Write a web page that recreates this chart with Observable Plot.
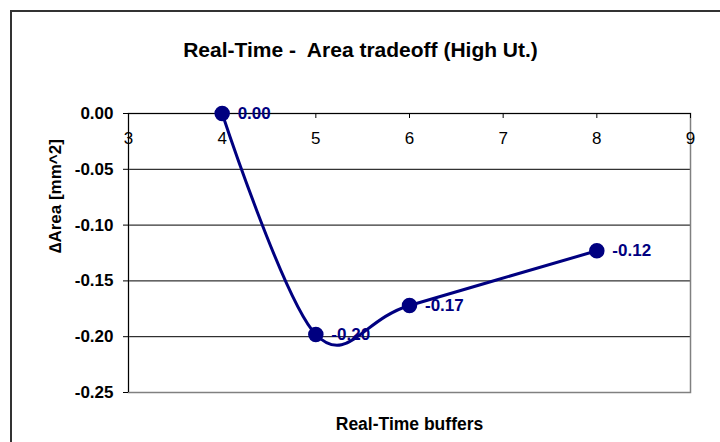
<!DOCTYPE html>
<html>
<head>
<meta charset="utf-8">
<script src="https://cdn.jsdelivr.net/npm/d3@7"></script>
<script src="https://cdn.jsdelivr.net/npm/@observablehq/plot@0.6"></script>
<style>
  body { margin: 0; background: #fff; }
  #wrap { position: relative; width: 720px; height: 442px; overflow: hidden; }
  #outer { position: absolute; left: 10px; top: 10px; width: 760px; height: 480px;
           border-left: 2px solid #333; border-top: 2px solid #333; pointer-events: none; }
  #wrap svg { position: absolute; left: 0; top: 0; }
  #wrap svg text { white-space: pre; }
</style>
</head>
<body>
<div id="wrap"><div id="outer"></div></div>
<script>
const chartTitle = "Real-Time -  Area tradeoff (High Ut.)";
const xTitle = "Real-Time buffers";
const yTitle = "\u2206Area [mm^2]";
const xValues = [4, 5, 6, 8];
const yValues = [0.00, -0.198, -0.172, -0.123];
const pointLabels = ["0.00", "-0.20", "-0.17", "-0.12"];
const xTicks = [3, 4, 5, 6, 7, 8, 9];
const yTicks = [0, -0.05, -0.10, -0.15, -0.20, -0.25];
const gridTicks = [-0.05, -0.10, -0.15, -0.20, -0.25];

const data = xValues.map((x, i) => ({x, y: yValues[i], label: pointLabels[i]}));
const navy = "#000080";
const font = "Liberation Sans, Arial, sans-serif";

const chart = Plot.plot({
  width: 720,
  height: 442,
  marginLeft: 128,
  marginRight: 30,
  marginTop: 113,
  marginBottom: 50,
  style: {fontFamily: font, fontSize: "17px", color: "#000", background: "transparent"},
  x: {domain: [3, 9], axis: null},
  y: {domain: [-0.25, 0], axis: null},
  marks: [
    Plot.gridY(gridTicks, {stroke: "#000", strokeOpacity: 1, strokeWidth: 1}),
    Plot.frame({stroke: "#808080", strokeWidth: 1.5}),
    Plot.ruleX([3], {stroke: "#000"}),
    Plot.ruleY([0], {stroke: "#000"}),
    Plot.axisY(yTicks, {
      anchor: "left", tickSize: 5, tickPadding: 10, fontWeight: "bold", fontSize: 17,
      tickFormat: d => d.toFixed(2), label: null, stroke: "#000"
    }),
    Plot.ruleX(xTicks, {x: d => d, y1: 0, y2: 0, insetBottom: -5, stroke: "#000"}),
    Plot.text(xTicks, {x: d => d, frameAnchor: "top", lineAnchor: "middle", dy: 25.5,
      text: d => String(d), fontSize: 17, fill: "#000"}),
    Plot.line(data, {x: "x", y: "y", stroke: navy, strokeWidth: 3, curve: d3.curveCardinal.tension(0)}),
    Plot.dot(data, {x: "x", y: "y", r: 7, fill: navy, stroke: navy}),
    Plot.text(data, {x: "x", y: "y", text: "label", textAnchor: "start", dx: 15.5, dy: 0,
      fill: navy, fontWeight: "bold", fontSize: 17}),
    Plot.text([chartTitle], {frameAnchor: "top", lineAnchor: "middle", dx: -49, dy: -63.5,
      fontWeight: "bold", fontSize: 21, fill: "#000"}),
    Plot.text([xTitle], {frameAnchor: "bottom", lineAnchor: "middle", dy: 32,
      fontWeight: "bold", fontSize: 17.5, fill: "#000"}),
    Plot.text([yTitle], {frameAnchor: "left", dx: -73, rotate: -90, fontWeight: "bold", fontSize: 17, fill: "#000"})
  ]
});
document.getElementById("wrap").appendChild(chart);
</script>
</body>
</html>
